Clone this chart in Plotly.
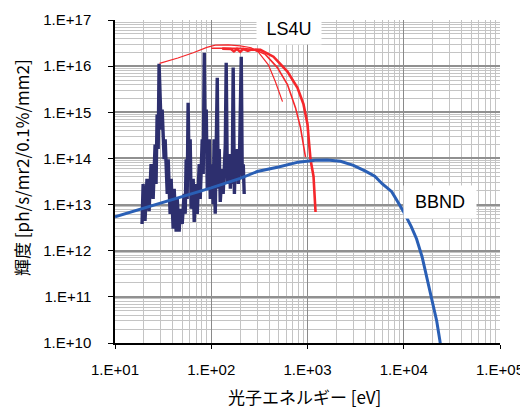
import plotly.graph_objects as go

# ---------------- data ----------------
x_tickvals = [10, 100, 1000, 10000, 100000]
x_ticktext = ["1.E+01", "1.E+02", "1.E+03", "1.E+04", "1.E+05"]
y_tickvals = [1e10, 1e11, 1e12, 1e13, 1e14, 1e15, 1e16, 1e17]
y_ticktext = ["1.E+10", "1.E+11", "1.E+12", "1.E+13", "1.E+14", "1.E+15", "1.E+16", "1.E+17"]

# Bending magnet (BBND)
bbnd_E = [10, 20, 50, 100, 200, 300, 500, 800, 1200, 1600, 2200, 3000, 4000, 5000,
          6000, 7500, 9000, 10000, 12000, 13600, 15500, 17800, 20000, 22000, 23700, 24500]
bbnd_B = [5.4e12, 8.3e12, 1.5e13, 2.3e13, 3.7e13, 5.2e13, 6.5e13, 8.3e13, 9.1e13, 9.2e13,
          8.7e13, 7.1e13, 5.3e13, 4.1e13, 2.8e13, 1.9e13, 1.0e13, 6.9e12, 3.3e12, 1.8e12,
          7.4e11, 2.1e11, 8.0e10, 3.0e10, 1.15e10, 7e9]

# LS4U undulator envelopes (red)
ls4u_a_E = [29, 45, 65, 90, 110, 150, 200, 260, 309, 392, 464, 523, 550]
ls4u_a_B = [1.15e16, 1.5e16, 1.95e16, 2.55e16, 2.85e16, 2.9e16, 2.75e16, 2.5e16, 2.0e16,
            1.07e16, 4.6e15, 2.4e15, 1.7e15]
ls4u_b_E = [100, 150, 200, 250, 300, 365, 487, 619, 750, 845, 887, 953]
ls4u_b_B = [2.45e16, 2.5e16, 2.45e16, 2.35e16, 2.15e16, 1.8e16, 9.3e15, 4.0e15, 1.26e15,
            4.7e14, 2.6e14, 1.07e14]
ls4u_c_E = [130, 160, 172, 185, 200, 215, 240, 260, 324, 443, 619, 787, 908, 1000, 1030,
            1075, 1155, 1212]
ls4u_c_B = [2.4e16, 2.35e16, 2.1e16, 2.35e16, 2.05e16, 2.35e16, 2.15e16, 2.3e16, 2.25e16,
            1.6e16, 7.6e15, 3.4e15, 1.5e15, 5.5e14, 2.6e14, 9.5e13, 4.1e13, 6.9e12]

# LS4U low-energy spectrum (navy, oscillating)
low_E = [19.1, 19.6, 20.5, 21.5, 22.6, 23.7, 24.9, 26.1, 26.7, 27.4, 28.1, 28.7, 30.2, 30.9,
         32.4, 33.2, 34.9, 35.7, 37.4, 38.3, 40.2, 41.2, 43.2, 44.3, 46.4, 47.5, 49.9, 52.3,
         53.6, 54.9, 56.2, 57.5, 58.9, 60.4, 61.9, 64.9, 66.5, 69.8, 71.5, 75.0, 76.8, 80.6,
         82.5, 84.6, 86.6, 88.7, 90.9, 95.4, 97.7, 102, 105, 107, 110, 112.7, 115.5, 118,
         121, 124, 130, 133, 140, 143, 147, 154, 158, 162, 165, 169, 174, 178, 182, 187,
         191, 196, 205, 210, 215, 220]
low_B = [3.8e12, 2.8e13, 4.4e12, 3.6e13, 7.2e12, 7.5e13, 1.33e13, 2.0e14, 2.8e13, 8.9e14,
         1.6e14, 1.12e16, 4.2e14, 1.15e15, 9.6e13, 2.6e14, 1.7e13, 9.6e13, 6.3e12, 3.6e13,
         3.0e12, 2.2e13, 2.6e12, 1.33e13, 2.6e12, 8.1e12, 3.8e12, 1.7e13, 6.3e12, 9.6e13,
         1.33e13, 1.6e15, 4.6e13, 2.6e14, 8.1e12, 3.6e13, 4.2e12, 2.8e13, 6.3e12, 7.5e13,
         1.33e13, 2.6e14, 4.6e13, 1.95e16, 1.6e14, 1.15e15, 2.2e13, 2.6e14, 1.33e13, 7.5e13,
         1.02e13, 2.6e14, 6.3e12, 7.0e14, 5.6e15, 2.2e13, 1.6e14, 1.14e13, 5.9e13, 1.7e13,
         2.0e14, 1.18e16, 2.8e13, 1.24e14, 2.2e13, 9.6e13, 2.8e13, 9.3e15, 1.7e13, 9.6e13,
         3.6e13, 1.6e14, 2.8e13, 7.5e13, 1.6e16, 3.6e13, 7.5e13, 1.7e13]

# ---------------- figure ----------------
RED = "#f5272b"
NAVY = "#2d2f6e"
BLUE = "#2a5fb5"
FONT = "Liberation Sans, Arial, sans-serif"
CJK = "Noto Sans CJK JP, sans-serif"

fig = go.Figure()
fig.add_trace(go.Scatter(x=low_E, y=low_B, mode="lines",
                         line=dict(color=NAVY, width=3.4), showlegend=False))
fig.add_trace(go.Scatter(x=ls4u_a_E, y=ls4u_a_B, mode="lines",
                         line=dict(color=RED, width=1.2), showlegend=False))
fig.add_trace(go.Scatter(x=ls4u_b_E, y=ls4u_b_B, mode="lines",
                         line=dict(color=RED, width=1.6), showlegend=False))
fig.add_trace(go.Scatter(x=ls4u_c_E, y=ls4u_c_B, mode="lines",
                         line=dict(color=RED, width=2.6), showlegend=False))
fig.add_trace(go.Scatter(x=bbnd_E, y=bbnd_B, mode="lines",
                         line=dict(color=BLUE, width=3), showlegend=False))

fig.update_xaxes(type="log", range=[1, 5], tickmode="array",
                 tickvals=x_tickvals, ticktext=x_ticktext,
                 showgrid=True, gridcolor="#8a8a8a", gridwidth=1,
                 minor=dict(tickmode="linear", dtick="D1", showgrid=True,
                            gridcolor="#c4c4c4", gridwidth=1, ticks=""),
                 showline=True, linecolor="black", linewidth=1.5,
                 ticks="outside", ticklen=4, tickcolor="black",
                 ticklabelstandoff=8,
                 tickfont=dict(family=FONT, size=15, color="black"),
                 zeroline=False)
fig.update_yaxes(type="log", range=[10, 17], tickmode="array",
                 tickvals=y_tickvals, ticktext=y_ticktext,
                 showgrid=True, gridcolor="#909090", gridwidth=2,
                 minor=dict(tickmode="linear", dtick="D1", showgrid=True,
                            gridcolor="#c4c4c4", gridwidth=1, ticks=""),
                 showline=True, linecolor="black", linewidth=1.5,
                 ticks="outside", ticklen=5, tickcolor="black",
                 ticklabelstandoff=14,
                 tickfont=dict(family=FONT, size=15, color="black"),
                 zeroline=False)

fig.add_annotation(text="光子エネルギー [eV]", xref="paper", yref="paper",
                   x=0.4935, y=-0.166, xanchor="center", yanchor="middle",
                   showarrow=False, font=dict(family=CJK, size=17, color="black"))
fig.add_annotation(text="輝度 [ph/s/mr2/0.1%/mm2]", xref="paper", yref="paper",
                   x=-0.2416, y=0.545, xanchor="center", yanchor="middle",
                   textangle=-90, showarrow=False,
                   font=dict(family=CJK, size=17, color="black"))
fig.add_annotation(text="LS4U", xref="paper", yref="paper",
                   x=0.452, y=0.972, xanchor="center", yanchor="middle",
                   showarrow=False, bgcolor="white", width=62, height=28,
                   font=dict(family=FONT, size=18, color="black"))
fig.add_annotation(text="BBND", xref="paper", yref="paper",
                   x=0.844, y=0.4365, xanchor="center", yanchor="middle",
                   showarrow=False, bgcolor="white", width=70, height=30,
                   font=dict(family=FONT, size=18, color="black"))

# the page body adds an 8 px offset, so margins are shifted to compensate
fig.update_layout(width=528, height=409,
                  margin=dict(l=107, r=36, t=12, b=74, autoexpand=False),
                  paper_bgcolor="white", plot_bgcolor="white",
                  showlegend=False)

fig.write_html("out.html")
